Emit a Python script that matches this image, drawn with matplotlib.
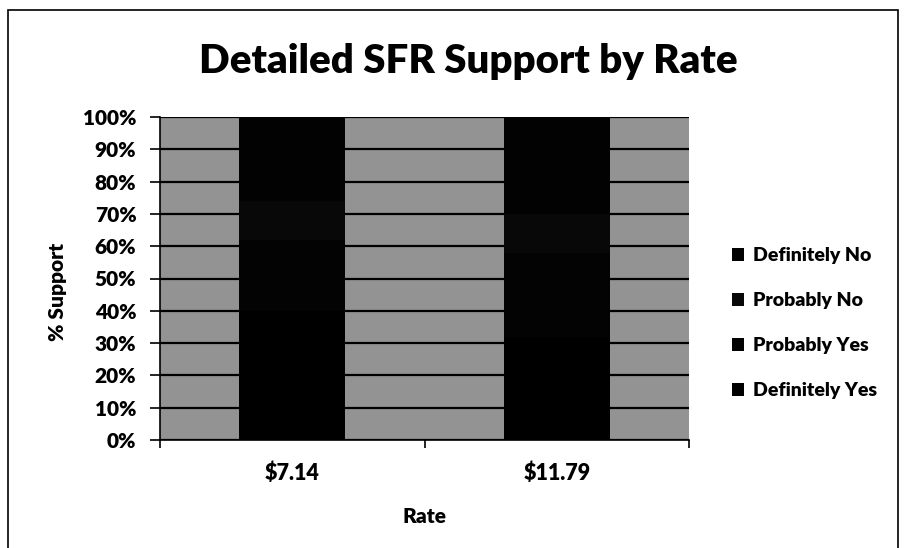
import matplotlib
matplotlib.use("Agg")
import matplotlib.pyplot as plt
from matplotlib.patches import Rectangle

plt.rcParams['font.family'] = ['Lato', 'DejaVu Sans']
plt.rcParams['font.weight'] = 'heavy'

# data (segments are hard to tell apart, all near-black)
rates = ["$7.14", "$11.79"]
definitely_yes = [40, 32]
probably_yes = [22, 26]
probably_no = [12, 12]
definitely_no = [26, 30]

series = [("Definitely Yes", definitely_yes, "#000000"),
          ("Probably Yes", probably_yes, "#030303"),
          ("Probably No", probably_no, "#080808"),
          ("Definitely No", definitely_no, "#020202")]

W, H = 906, 548
fig = plt.figure(figsize=(W / 100, H / 100), dpi=100)
fig.patch.set_facecolor("white")

# outer chart border
fig.add_artist(Rectangle((8 / W, -0.05), 890 / W, 1.05 - 10 / H,
                         transform=fig.transFigure, fill=False,
                         edgecolor="black", linewidth=1.2))

# plot area in pixels: x 160..689, y 117..440
ax = fig.add_axes([160 / W, 1 - 440 / H, (689 - 160) / W, (440 - 117) / H])
ax.set_facecolor("#939393")

x = list(range(len(rates)))
bottom = [0] * len(rates)
for name, vals, col in series:
    ax.bar(x, vals, width=0.4, bottom=bottom, color=col, label=name, zorder=3)
    bottom = [b + v for b, v in zip(bottom, vals)]

ax.set_xlim(-0.5, 1.5)
ax.set_ylim(0, 100)
ax.set_yticks(range(0, 101, 10))
ax.set_yticklabels([f"{v}%" for v in range(0, 101, 10)], fontsize=15, fontweight="heavy")
ax.yaxis.grid(True, color="black", linewidth=1.6, zorder=1)
ax.set_axisbelow(True)

ax.set_xticks([-0.5, 0.5, 1.5])
ax.set_xticklabels(["", "", ""])
ax.set_xticks(x, minor=True)
ax.set_xticklabels(rates, minor=True, fontsize=15.5, fontweight="heavy")
ax.tick_params(axis="x", which="minor", length=0, pad=16)
ax.tick_params(axis="x", which="major", length=6, width=1.2, direction="out")
ax.tick_params(axis="y", length=7, width=1.2, direction="out", pad=10)

for s in ["top", "right"]:
    ax.spines[s].set_visible(False)
ax.spines["left"].set_linewidth(1.2)
ax.spines["bottom"].set_linewidth(1.2)

ax.set_xlabel("Rate", fontsize=15, fontweight="heavy", labelpad=17)
ax.set_ylabel("% Support", fontsize=15, fontweight="heavy")
ax.yaxis.set_label_coords((67 - 160) / 529, (440 - 292) / 323)

fig.text(468 / W, 1 - 62 / H, "Detailed SFR Support by Rate",
         ha="center", va="center", fontsize=29, fontweight="heavy")

handles, labels = ax.get_legend_handles_labels()
leg = fig.legend(handles[::-1], labels[::-1], loc="center left",
                 bbox_to_anchor=(714 / W, 1 - 323 / H), frameon=False,
                 fontsize=14, handlelength=0.65, handleheight=0.65,
                 handletextpad=0.45, labelspacing=1.44)
for t in leg.get_texts():
    t.set_fontweight("heavy")

fig.savefig("out.png", dpi=100, facecolor="white")
